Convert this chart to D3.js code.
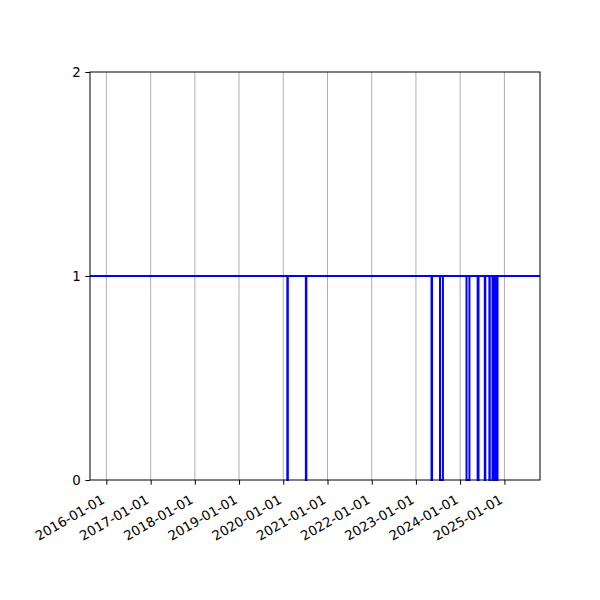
<!DOCTYPE html>
<html>
<head>
<meta charset="utf-8">
<script src="https://cdn.jsdelivr.net/npm/d3@7"></script>
<style>
  body { margin: 0; background: #fff; }
  svg text { font-family: "DejaVu Sans", sans-serif; font-size: 13.3px; fill: #000; }
</style>
</head>
<body>
<svg id="chart" width="600" height="600"></svg>
<script>
// Axis extent and ticks
const xExtent = ["2015-08-19", "2025-10-22"];
const yTicks = [0, 1, 2];
const xTickLabels = ["2016-01-01", "2017-01-01", "2018-01-01", "2019-01-01", "2020-01-01",
  "2021-01-01", "2022-01-01", "2023-01-01", "2024-01-01", "2025-01-01"];

// Periods where the value drops to 0 (start, end); otherwise value is 1
const dipStarts = ["2020-02-04", "2020-07-06", "2023-05-10", "2023-07-19", "2024-02-23",
  "2024-05-25", "2024-07-23", "2024-08-30", "2024-09-25", "2024-10-09", "2024-10-23"];
const dipEnds = ["2020-02-08", "2020-07-10", "2023-05-14", "2023-08-12", "2024-03-18",
  "2024-06-01", "2024-07-27", "2024-09-02", "2024-10-03", "2024-10-17", "2024-11-05"];

const parse = d3.utcParse("%Y-%m-%d");

// Build the step series from the dips
const series = [{ date: parse(xExtent[0]), value: 1 }];
dipStarts.forEach((s, i) => {
  series.push({ date: parse(s), value: 0 });
  series.push({ date: parse(dipEnds[i]), value: 1 });
});
series.push({ date: parse(xExtent[1]), value: 1 });

const margin = { left: 90, right: 60, top: 72, bottom: 120 };
const width = 600, height = 600;

const svg = d3.select("#chart");

const x = d3.scaleUtc()
  .domain(xExtent.map(parse))
  .range([margin.left, width - margin.right]);
const y = d3.scaleLinear()
  .domain([0, 2])
  .range([height - margin.bottom, margin.top]);

// Vertical grid
svg.append("g")
  .selectAll("line")
  .data(xTickLabels)
  .join("line")
  .attr("x1", d => x(parse(d)))
  .attr("x2", d => x(parse(d)))
  .attr("y1", y(0))
  .attr("y2", y(2))
  .attr("stroke", "#b0b0b0")
  .attr("stroke-width", 1);

// Step line
const line = d3.line()
  .x(d => x(d.date))
  .y(d => y(d.value))
  .curve(d3.curveStepAfter);

// Level 1 reference running across the whole axis
svg.append("line")
  .attr("x1", x.range()[0])
  .attr("x2", x.range()[1])
  .attr("y1", y(1))
  .attr("y2", y(1))
  .attr("stroke", "#0000ff")
  .attr("stroke-width", 2);

svg.append("path")
  .datum(series)
  .attr("fill", "none")
  .attr("stroke", "#0000ff")
  .attr("stroke-width", 2)
  .attr("d", line);

// Frame
svg.append("rect")
  .attr("x", margin.left)
  .attr("y", margin.top)
  .attr("width", width - margin.left - margin.right)
  .attr("height", height - margin.top - margin.bottom)
  .attr("fill", "none")
  .attr("stroke", "#000")
  .attr("stroke-width", 1);

// X axis
const xAxis = d3.axisBottom(x)
  .tickValues(xTickLabels.map(parse))
  .tickFormat(d3.utcFormat("%Y-%m-%d"))
  .tickSize(4.7)
  .tickPadding(4);

const gx = svg.append("g")
  .attr("transform", `translate(0,${y(0)})`)
  .call(xAxis);
gx.select(".domain").remove();
gx.selectAll(".tick line").attr("stroke", "#000");
gx.selectAll(".tick text")
  .attr("font-size", null)
  .attr("font-family", null)
  .attr("text-anchor", "end")
  .attr("y", 0)
  .attr("dy", "0.72em")
  .attr("transform", "translate(-6,14) rotate(-30)");

// Y axis
const yAxis = d3.axisLeft(y)
  .tickValues(yTicks)
  .tickFormat(d3.format("d"))
  .tickSize(4.7)
  .tickPadding(4.5);

const gy = svg.append("g")
  .attr("transform", `translate(${margin.left},0)`)
  .call(yAxis);
gy.select(".domain").remove();
gy.selectAll(".tick line").attr("stroke", "#000");
gy.selectAll(".tick text")
  .attr("font-size", null)
  .attr("font-family", null);
</script>
</body>
</html>
